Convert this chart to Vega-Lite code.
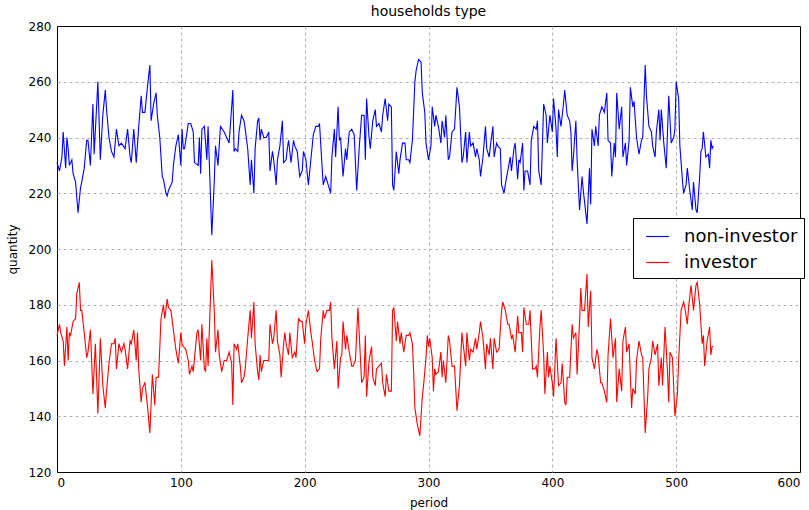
{
  "$schema": "https://vega.github.io/schema/vega-lite/v6.json",
  "width": 743,
  "height": 446,
  "autosize": {"type": "none"},
  "padding": {"left": 57, "top": 26, "right": 9, "bottom": 38},
  "background": "white",
  "title": {"text": "households type", "fontSize": 14, "font": "DejaVu Sans", "fontWeight": "normal", "color": "#000", "offset": 1},
  "config": {
    "view": {"stroke": "#000", "strokeWidth": 1},
    "font": "DejaVu Sans",
    "axis": {
      "domain": false,
      "ticks": false,
      "grid": true,
      "gridDash": [3, 3],
      "gridColor": "#b0b0b0",
      "gridWidth": 1,
      "labelFont": "DejaVu Sans",
      "labelFontSize": 12,
      "labelColor": "#000",
      "titleFont": "DejaVu Sans",
      "titleFontSize": 12,
      "titleFontWeight": "normal",
      "titleColor": "#000"
    }
  },
  "datasets": {
    "noninv": [
      {"period":0,"quantity":231},{"period":2,"quantity":228},{"period":4,"quantity":233},{"period":5,"quantity":242},{"period":7,"quantity":229},{"period":8,"quantity":240},{"period":9,"quantity":236},{"period":10,"quantity":230},{"period":12,"quantity":232},{"period":13,"quantity":227},{"period":15,"quantity":224},{"period":17,"quantity":213},{"period":19,"quantity":222},{"period":20,"quantity":224},{"period":22,"quantity":229},{"period":24,"quantity":239},{"period":25,"quantity":239},{"period":27,"quantity":230},{"period":29,"quantity":252},{"period":30,"quantity":234},{"period":33,"quantity":260},{"period":35,"quantity":232},{"period":37,"quantity":248},{"period":39,"quantity":257},{"period":40,"quantity":250},{"period":42,"quantity":240},{"period":44,"quantity":235},{"period":46,"quantity":233},{"period":48,"quantity":243},{"period":50,"quantity":237},{"period":52,"quantity":238},{"period":55,"quantity":236},{"period":57,"quantity":243},{"period":59,"quantity":233},{"period":60,"quantity":231},{"period":62,"quantity":243},{"period":64,"quantity":231},{"period":66,"quantity":244},{"period":68,"quantity":255},{"period":69,"quantity":249},{"period":71,"quantity":249},{"period":73,"quantity":258},{"period":75,"quantity":266},{"period":76,"quantity":246},{"period":78,"quantity":252},{"period":80,"quantity":256},{"period":81,"quantity":248},{"period":83,"quantity":240},{"period":85,"quantity":226},{"period":86,"quantity":225},{"period":88,"quantity":220},{"period":89,"quantity":219},{"period":90,"quantity":221},{"period":93,"quantity":224},{"period":94,"quantity":230},{"period":96,"quantity":237},{"period":98,"quantity":241},{"period":100,"quantity":230},{"period":101,"quantity":243},{"period":102,"quantity":236},
      {"period":103,"quantity":236},{"period":106,"quantity":245},{"period":108,"quantity":245},{"period":110,"quantity":242},{"period":111,"quantity":231},{"period":114,"quantity":230},{"period":115,"quantity":240},{"period":116,"quantity":227},{"period":117,"quantity":243},{"period":119,"quantity":244},{"period":121,"quantity":232},{"period":122,"quantity":244},{"period":125,"quantity":205},{"period":127,"quantity":224},{"period":128,"quantity":237},{"period":130,"quantity":230},{"period":132,"quantity":244},{"period":135,"quantity":242},{"period":137,"quantity":240},{"period":139,"quantity":238},{"period":142,"quantity":257},{"period":143,"quantity":235},{"period":144,"quantity":236},{"period":146,"quantity":235},{"period":147,"quantity":242},{"period":149,"quantity":248},{"period":151,"quantity":246},{"period":152,"quantity":243},{"period":154,"quantity":236},{"period":156,"quantity":223},{"period":157,"quantity":232},{"period":159,"quantity":220},{"period":160,"quantity":236},{"period":162,"quantity":246},{"period":163,"quantity":247},{"period":164,"quantity":239},{"period":165,"quantity":243},{"period":167,"quantity":240},{"period":169,"quantity":240},{"period":171,"quantity":242},{"period":172,"quantity":228},{"period":174,"quantity":235},{"period":175,"quantity":232},{"period":177,"quantity":223},{"period":178,"quantity":232},{"period":180,"quantity":237},{"period":182,"quantity":246},{"period":183,"quantity":231},{"period":185,"quantity":232},{"period":186,"quantity":236},{"period":187,"quantity":239},{"period":189,"quantity":231},{"period":191,"quantity":239},{"period":192,"quantity":237},{"period":194,"quantity":235},{"period":196,"quantity":226},{"period":198,"quantity":228},{"period":199,"quantity":235},{"period":201,"quantity":232},{"period":203,"quantity":223},{"period":205,"quantity":232},{"period":207,"quantity":241},
      {"period":209,"quantity":244},{"period":211,"quantity":244},{"period":212,"quantity":245},{"period":214,"quantity":230},{"period":215,"quantity":223},{"period":217,"quantity":226},{"period":219,"quantity":223},{"period":221,"quantity":220},{"period":222,"quantity":233},{"period":224,"quantity":243},{"period":225,"quantity":233},{"period":227,"quantity":251},{"period":228,"quantity":239},{"period":229,"quantity":240},{"period":231,"quantity":226},{"period":233,"quantity":236},{"period":234,"quantity":232},{"period":236,"quantity":242},{"period":238,"quantity":243},{"period":240,"quantity":241},{"period":242,"quantity":221},{"period":244,"quantity":236},{"period":246,"quantity":248},{"period":248,"quantity":248},{"period":249,"quantity":232},{"period":250,"quantity":254},{"period":252,"quantity":240},{"period":253,"quantity":236},{"period":255,"quantity":246},{"period":257,"quantity":250},{"period":258,"quantity":244},{"period":260,"quantity":245},{"period":262,"quantity":242},{"period":263,"quantity":248},{"period":265,"quantity":254},{"period":267,"quantity":246},{"period":268,"quantity":252},{"period":270,"quantity":251},{"period":271,"quantity":223},{"period":272,"quantity":221},{"period":274,"quantity":235},{"period":276,"quantity":227},{"period":277,"quantity":232},{"period":279,"quantity":238},{"period":281,"quantity":238},{"period":282,"quantity":232},{"period":284,"quantity":232},{"period":285,"quantity":231},{"period":287,"quantity":239},{"period":289,"quantity":260},{"period":290,"quantity":264},{"period":292,"quantity":268},{"period":294,"quantity":267},{"period":295,"quantity":256},{"period":297,"quantity":249},{"period":298,"quantity":238},{"period":300,"quantity":232},{"period":302,"quantity":237},{"period":303,"quantity":251},{"period":305,"quantity":244},{"period":306,"quantity":248},{"period":308,"quantity":244},{"period":310,"quantity":238},{"period":311,"quantity":246},{"period":313,"quantity":240},{"period":314,"quantity":248},{"period":316,"quantity":232},{"period":317,"quantity":233},
      {"period":319,"quantity":242},{"period":321,"quantity":243},{"period":323,"quantity":258},{"period":325,"quantity":251},{"period":327,"quantity":231},{"period":328,"quantity":233},{"period":330,"quantity":242},{"period":331,"quantity":231},{"period":333,"quantity":242},{"period":334,"quantity":237},{"period":336,"quantity":238},{"period":338,"quantity":233},{"period":339,"quantity":236},{"period":341,"quantity":232},{"period":342,"quantity":226},{"period":344,"quantity":233},{"period":346,"quantity":244},{"period":347,"quantity":236},{"period":349,"quantity":233},{"period":350,"quantity":237},{"period":352,"quantity":244},{"period":353,"quantity":233},{"period":355,"quantity":238},{"period":356,"quantity":237},{"period":358,"quantity":236},{"period":359,"quantity":223},{"period":361,"quantity":220},{"period":362,"quantity":223},{"period":364,"quantity":228},{"period":366,"quantity":233},{"period":367,"quantity":228},{"period":369,"quantity":236},{"period":370,"quantity":238},{"period":372,"quantity":225},{"period":373,"quantity":232},{"period":374,"quantity":231},{"period":376,"quantity":238},{"period":377,"quantity":221},{"period":378,"quantity":228},{"period":380,"quantity":228},{"period":382,"quantity":223},{"period":383,"quantity":239},{"period":385,"quantity":244},{"period":387,"quantity":243},{"period":388,"quantity":246},{"period":389,"quantity":228},{"period":391,"quantity":223},{"period":393,"quantity":252},{"period":395,"quantity":248},{"period":396,"quantity":238},{"period":398,"quantity":248},{"period":400,"quantity":242},{"period":401,"quantity":254},{"period":403,"quantity":243},{"period":404,"quantity":233},{"period":405,"quantity":250},{"period":407,"quantity":244},{"period":409,"quantity":252},{"period":410,"quantity":257},{"period":412,"quantity":248},{"period":414,"quantity":246},{"period":415,"quantity":242},{"period":416,"quantity":228},{"period":417,"quantity":233},{"period":419,"quantity":246},{"period":420,"quantity":232},{"period":422,"quantity":214},
      {"period":424,"quantity":226},{"period":425,"quantity":221},{"period":428,"quantity":209},{"period":430,"quantity":229},{"period":431,"quantity":216},{"period":432,"quantity":243},{"period":434,"quantity":237},{"period":435,"quantity":244},{"period":437,"quantity":237},{"period":438,"quantity":248},{"period":440,"quantity":251},{"period":442,"quantity":249},{"period":444,"quantity":256},{"period":445,"quantity":239},{"period":447,"quantity":238},{"period":448,"quantity":226},{"period":450,"quantity":238},{"period":451,"quantity":233},{"period":452,"quantity":256},{"period":454,"quantity":243},{"period":456,"quantity":251},{"period":457,"quantity":233},{"period":459,"quantity":238},{"period":460,"quantity":230},{"period":462,"quantity":239},{"period":463,"quantity":258},{"period":465,"quantity":251},{"period":466,"quantity":253},{"period":468,"quantity":240},{"period":470,"quantity":234},{"period":472,"quantity":239},{"period":473,"quantity":240},{"period":475,"quantity":266},{"period":476,"quantity":255},{"period":478,"quantity":244},{"period":480,"quantity":242},{"period":481,"quantity":237},{"period":483,"quantity":233},{"period":484,"quantity":242},{"period":486,"quantity":250},{"period":487,"quantity":239},{"period":488,"quantity":250},{"period":490,"quantity":238},{"period":492,"quantity":229},{"period":493,"quantity":242},{"period":494,"quantity":255},{"period":496,"quantity":238},{"period":498,"quantity":240},{"period":499,"quantity":243},{"period":500,"quantity":260},{"period":502,"quantity":254},{"period":503,"quantity":237},{"period":505,"quantity":225},{"period":506,"quantity":220},{"period":508,"quantity":223},{"period":509,"quantity":229},{"period":511,"quantity":221},{"period":513,"quantity":214},{"period":514,"quantity":224},{"period":516,"quantity":214},{"period":517,"quantity":213},{"period":519,"quantity":226},{"period":520,"quantity":235},{"period":521,"quantity":236},{"period":522,"quantity":242},{"period":524,"quantity":233},{"period":526,"quantity":234},{"period":527,"quantity":229},{"period":528,"quantity":239},{"period":529,"quantity":236},{"period":530,"quantity":237}
    ],
    "inv": [
      {"period":0,"quantity":169},{"period":2,"quantity":173},{"period":3,"quantity":170},{"period":5,"quantity":167},{"period":6,"quantity":158},{"period":8,"quantity":172},{"period":9,"quantity":160},{"period":10,"quantity":170},{"period":11,"quantity":169},{"period":13,"quantity":174},{"period":15,"quantity":175},{"period":16,"quantity":184},{"period":18,"quantity":188},{"period":19,"quantity":178},{"period":20,"quantity":178},{"period":22,"quantity":170},{"period":24,"quantity":161},{"period":25,"quantity":163},{"period":27,"quantity":171},{"period":29,"quantity":148},{"period":31,"quantity":166},{"period":33,"quantity":141},{"period":35,"quantity":168},{"period":37,"quantity":151},{"period":39,"quantity":143},{"period":40,"quantity":149},{"period":42,"quantity":159},{"period":44,"quantity":166},{"period":46,"quantity":166},{"period":47,"quantity":168},{"period":48,"quantity":157},{"period":50,"quantity":166},{"period":52,"quantity":163},{"period":54,"quantity":166},{"period":55,"quantity":164},{"period":57,"quantity":157},{"period":59,"quantity":167},{"period":60,"quantity":166},{"period":62,"quantity":171},{"period":64,"quantity":160},{"period":65,"quantity":170},{"period":66,"quantity":157},{"period":68,"quantity":145},{"period":69,"quantity":150},{"period":71,"quantity":152},{"period":73,"quantity":144},{"period":75,"quantity":134},{"period":77,"quantity":155},{"period":79,"quantity":144},{"period":80,"quantity":154},{"period":82,"quantity":154},{"period":84,"quantity":175},{"period":86,"quantity":180},{"period":87,"quantity":175},{"period":89,"quantity":182},{"period":90,"quantity":179},{"period":92,"quantity":178},{"period":94,"quantity":171},{"period":96,"quantity":164},{"period":98,"quantity":159},{"period":100,"quantity":170},{"period":101,"quantity":166},{"period":102,"quantity":165},
      {"period":104,"quantity":164},{"period":106,"quantity":160},{"period":107,"quantity":155},{"period":109,"quantity":158},{"period":110,"quantity":156},{"period":113,"quantity":170},{"period":114,"quantity":171},{"period":116,"quantity":160},{"period":117,"quantity":173},{"period":119,"quantity":157},{"period":120,"quantity":156},{"period":121,"quantity":168},{"period":122,"quantity":158},{"period":125,"quantity":196},{"period":127,"quantity":178},{"period":128,"quantity":163},{"period":130,"quantity":171},{"period":131,"quantity":162},{"period":133,"quantity":156},{"period":135,"quantity":160},{"period":137,"quantity":160},{"period":139,"quantity":163},{"period":141,"quantity":159},{"period":142,"quantity":144},{"period":143,"quantity":166},{"period":145,"quantity":164},{"period":146,"quantity":166},{"period":148,"quantity":158},{"period":149,"quantity":152},{"period":151,"quantity":154},{"period":152,"quantity":157},{"period":154,"quantity":168},{"period":156,"quantity":178},{"period":157,"quantity":168},{"period":159,"quantity":181},{"period":160,"quantity":166},{"period":162,"quantity":156},{"period":163,"quantity":153},{"period":164,"quantity":162},{"period":165,"quantity":156},{"period":167,"quantity":160},{"period":169,"quantity":160},{"period":171,"quantity":160},{"period":172,"quantity":173},{"period":174,"quantity":166},{"period":175,"quantity":168},{"period":177,"quantity":178},{"period":178,"quantity":167},{"period":180,"quantity":162},{"period":181,"quantity":154},{"period":183,"quantity":166},{"period":184,"quantity":170},{"period":185,"quantity":166},{"period":187,"quantity":162},{"period":188,"quantity":170},{"period":190,"quantity":161},{"period":192,"quantity":163},{"period":193,"quantity":161},{"period":195,"quantity":175},{"period":197,"quantity":174},{"period":198,"quantity":174},{"period":200,"quantity":166},{"period":201,"quantity":173},{"period":203,"quantity":178},{"period":205,"quantity":170},{"period":206,"quantity":167},{"period":208,"quantity":160},{"period":210,"quantity":156},{"period":212,"quantity":157},
      {"period":213,"quantity":168},{"period":215,"quantity":178},{"period":216,"quantity":175},{"period":218,"quantity":178},{"period":220,"quantity":178},{"period":221,"quantity":181},{"period":222,"quantity":168},{"period":224,"quantity":157},{"period":226,"quantity":167},{"period":227,"quantity":150},{"period":229,"quantity":161},{"period":230,"quantity":162},{"period":231,"quantity":174},{"period":233,"quantity":164},{"period":234,"quantity":169},{"period":236,"quantity":163},{"period":238,"quantity":158},{"period":239,"quantity":158},{"period":241,"quantity":160},{"period":243,"quantity":179},{"period":244,"quantity":170},{"period":246,"quantity":152},{"period":248,"quantity":154},{"period":249,"quantity":169},{"period":250,"quantity":147},{"period":252,"quantity":160},{"period":254,"quantity":165},{"period":255,"quantity":154},{"period":257,"quantity":151},{"period":258,"quantity":157},{"period":260,"quantity":158},{"period":262,"quantity":159},{"period":263,"quantity":152},{"period":265,"quantity":147},{"period":266,"quantity":155},{"period":268,"quantity":149},{"period":270,"quantity":149},{"period":271,"quantity":178},{"period":272,"quantity":179},{"period":274,"quantity":167},{"period":275,"quantity":174},{"period":277,"quantity":166},{"period":278,"quantity":170},{"period":280,"quantity":163},{"period":282,"quantity":169},{"period":284,"quantity":169},{"period":285,"quantity":170},{"period":287,"quantity":166},{"period":288,"quantity":156},{"period":289,"quantity":143},{"period":291,"quantity":137},{"period":293,"quantity":133},{"period":295,"quantity":147},{"period":296,"quantity":151},{"period":298,"quantity":161},{"period":299,"quantity":169},{"period":300,"quantity":165},{"period":301,"quantity":168},{"period":303,"quantity":161},{"period":304,"quantity":149},{"period":305,"quantity":157},{"period":306,"quantity":155},{"period":308,"quantity":156},{"period":310,"quantity":163},{"period":311,"quantity":154},{"period":312,"quantity":160},{"period":314,"quantity":152},{"period":316,"quantity":169},{"period":317,"quantity":167},
      {"period":319,"quantity":158},{"period":321,"quantity":158},{"period":323,"quantity":142},{"period":325,"quantity":151},{"period":327,"quantity":170},{"period":328,"quantity":166},{"period":330,"quantity":158},{"period":331,"quantity":170},{"period":333,"quantity":160},{"period":334,"quantity":164},{"period":336,"quantity":163},{"period":338,"quantity":168},{"period":339,"quantity":164},{"period":341,"quantity":170},{"period":342,"quantity":174},{"period":344,"quantity":168},{"period":346,"quantity":157},{"period":347,"quantity":166},{"period":349,"quantity":162},{"period":350,"quantity":168},{"period":352,"quantity":157},{"period":353,"quantity":168},{"period":355,"quantity":163},{"period":357,"quantity":164},{"period":359,"quantity":178},{"period":360,"quantity":181},{"period":362,"quantity":178},{"period":364,"quantity":173},{"period":365,"quantity":173},{"period":367,"quantity":168},{"period":368,"quantity":169},{"period":370,"quantity":163},{"period":372,"quantity":176},{"period":373,"quantity":170},{"period":375,"quantity":170},{"period":376,"quantity":163},{"period":377,"quantity":179},{"period":379,"quantity":173},{"period":381,"quantity":173},{"period":382,"quantity":178},{"period":384,"quantity":157},{"period":386,"quantity":157},{"period":387,"quantity":158},{"period":388,"quantity":154},{"period":390,"quantity":172},{"period":391,"quantity":178},{"period":393,"quantity":162},{"period":394,"quantity":148},{"period":396,"quantity":163},{"period":397,"quantity":154},{"period":398,"quantity":158},{"period":400,"quantity":152},{"period":401,"quantity":147},{"period":403,"quantity":168},{"period":405,"quantity":151},{"period":407,"quantity":152},{"period":408,"quantity":159},{"period":410,"quantity":145},{"period":411,"quantity":144},{"period":412,"quantity":154},{"period":414,"quantity":154},{"period":416,"quantity":173},{"period":417,"quantity":168},{"period":419,"quantity":170},{"period":420,"quantity":155},{"period":422,"quantity":174},{"period":423,"quantity":186},
      {"period":424,"quantity":178},{"period":426,"quantity":178},{"period":428,"quantity":191},{"period":429,"quantity":172},{"period":431,"quantity":185},{"period":432,"quantity":161},{"period":434,"quantity":157},{"period":436,"quantity":164},{"period":437,"quantity":162},{"period":439,"quantity":152},{"period":440,"quantity":152},{"period":442,"quantity":149},{"period":444,"quantity":145},{"period":445,"quantity":162},{"period":447,"quantity":175},{"period":449,"quantity":161},{"period":451,"quantity":168},{"period":452,"quantity":145},{"period":454,"quantity":157},{"period":456,"quantity":149},{"period":457,"quantity":167},{"period":459,"quantity":172},{"period":460,"quantity":163},{"period":462,"quantity":166},{"period":464,"quantity":143},{"period":465,"quantity":150},{"period":467,"quantity":148},{"period":468,"quantity":160},{"period":470,"quantity":167},{"period":472,"quantity":162},{"period":473,"quantity":161},{"period":475,"quantity":134},{"period":477,"quantity":147},{"period":478,"quantity":157},{"period":480,"quantity":161},{"period":481,"quantity":167},{"period":483,"quantity":162},{"period":485,"quantity":166},{"period":486,"quantity":151},{"period":488,"quantity":161},{"period":489,"quantity":151},{"period":491,"quantity":172},{"period":493,"quantity":156},{"period":494,"quantity":145},{"period":495,"quantity":163},{"period":497,"quantity":161},{"period":499,"quantity":140},{"period":501,"quantity":148},{"period":502,"quantity":160},{"period":504,"quantity":178},{"period":506,"quantity":181},{"period":507,"quantity":179},{"period":509,"quantity":173},{"period":510,"quantity":179},{"period":512,"quantity":187},{"period":514,"quantity":178},{"period":516,"quantity":187},{"period":517,"quantity":188},{"period":519,"quantity":180},{"period":521,"quantity":166},{"period":522,"quantity":169},{"period":523,"quantity":158},{"period":525,"quantity":167},{"period":527,"quantity":172},{"period":528,"quantity":162},{"period":529,"quantity":165},{"period":530,"quantity":165}
    ]
  },
  "encoding": {
    "x": {
      "field": "period",
      "type": "quantitative",
      "scale": {"domain": [0, 600], "nice": false},
      "axis": {
        "title": "period",
        "values": [0, 100, 200, 300, 400, 500, 600],
        "labelPadding": 5,
        "titlePadding": 9,
        "gridOpacity": {"condition": {"test": "datum.value <= 0 || datum.value >= 600", "value": 0}, "value": 1}
      }
    },
    "y": {
      "field": "quantity",
      "type": "quantitative",
      "scale": {"domain": [120, 280], "nice": false, "zero": false},
      "axis": {
        "title": "quantity",
        "values": [120, 140, 160, 180, 200, 220, 240, 260, 280],
        "labelPadding": 6,
        "titlePadding": 9,
        "gridOpacity": {"condition": {"test": "datum.value <= 120 || datum.value >= 280", "value": 0}, "value": 1}
      }
    }
  },
  "layer": [
    {
      "data": {"name": "noninv"},
      "mark": {"type": "line", "strokeWidth": 1.1},
      "encoding": {
        "color": {
          "datum": "non-investor",
          "scale": {"domain": ["non-investor", "investor"], "range": ["#0000ff", "#ff0000"]},
          "legend": {
            "orient": "none",
            "legendX": 576,
            "legendY": 192,
            "title": null,
            "symbolType": "stroke",
            "symbolStrokeWidth": 1.2,
            "symbolSize": 520,
            "symbolOffset": 6,
            "labelFontSize": 18,
            "labelFont": "DejaVu Sans",
            "labelColor": "#000",
            "strokeColor": "#000",
            "fillColor": "#fff",
            "padding": 6,
            "rowPadding": 4,
            "labelOffset": 14
          }
        }
      }
    },
    {
      "data": {"name": "inv"},
      "mark": {"type": "line", "strokeWidth": 1.1},
      "encoding": {
        "color": {"datum": "investor"}
      }
    }
  ]
}
